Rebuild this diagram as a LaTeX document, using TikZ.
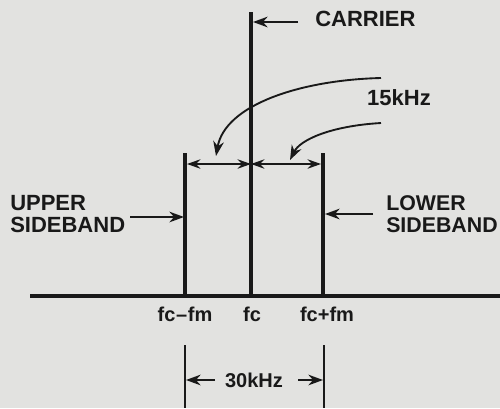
\documentclass[tikz,border=0pt]{standalone}
\usepackage{fontspec}
\setmainfont{Liberation Sans}
\usetikzlibrary{arrows.meta}
\definecolor{bg}{RGB}{226,226,224}
\definecolor{ink}{RGB}{25,25,25}
\begin{document}
\begin{tikzpicture}[x=0.75pt,y=-0.75pt,
  ln/.style={draw=ink,line width=2.8pt},
  thin/.style={draw=ink,line width=1.4pt},
  tip/.style={-{Stealth[length=11pt,width=8pt]}},
  dtip/.style={{Stealth[length=10pt,width=7pt]}-{Stealth[length=10pt,width=7pt]}},
  lbl/.style={font=\fontsize{16.5}{17}\selectfont\bfseries,text=ink,inner sep=0pt},
  lbls/.style={font=\fontsize{15}{15}\selectfont\bfseries,text=ink,inner sep=0pt},
  lblm/.style={lbl,align=left}]
\fill[bg] (0,0) rectangle (500,408);
\useasboundingbox (0,0) rectangle (500,408);
% baseline
\coordinate (b0) at (30,296);
\coordinate (b1) at (500,296);
\draw[ln,line width=3pt] (b0) -- (b1);
% spectral lines
\coordinate (cT) at (251,12);  \coordinate (cB) at (251,296);
\coordinate (lT) at (185,153); \coordinate (lB) at (185,296);
\coordinate (rT) at (323,153); \coordinate (rB) at (323,296);
\draw[ln] (cT) -- (cB);
\draw[ln] (lT) -- (lB);
\draw[ln] (rT) -- (rB);
% dimension arrows
\coordinate (dl) at (187,164); \coordinate (dc) at (251,164); \coordinate (dr) at (321,164);
\draw[thin,dtip] (dl) -- (dc);
\draw[thin,dtip] (dc) -- (dr);
% carrier
\node[lbl,anchor=west] (carrier) at (315,19) {CARRIER};
\coordinate (cs) at (298,22); \coordinate (ce) at (253,22);
\draw[thin,tip] (cs) -- (ce);
% 15kHz
\node[lbl,anchor=center] (khz) at (399,98) {15kHz};
\coordinate (a1s) at (381,78); \coordinate (a1e) at (216,156);
\coordinate (a2s) at (381,123); \coordinate (a2e) at (290,160);
\draw[thin,tip] (a1s) .. controls (300,80) and (225,105) .. (a1e);
\draw[thin,tip] (a2s) .. controls (330,126) and (300,140) .. (a2e);
% sidebands
\node[lblm,anchor=west] (usb) at (10,214) {UPPER\\SIDEBAND};
\coordinate (us) at (130,217); \coordinate (ue) at (184,217);
\draw[thin,tip] (us) -- (ue);
\node[lblm,anchor=west,font=\fontsize{16}{17}\selectfont\bfseries] (lsb) at (386,214) {LOWER\\SIDEBAND};
\coordinate (ls) at (373,214); \coordinate (le) at (325,214);
\draw[thin,tip] (ls) -- (le);
% axis labels
\node[lbls] (f1) at (185,314) {fc\kern0.5pt--\kern0.5pt fm};
\node[lbls] (f2) at (252,314) {fc};
\node[lbls] (f3) at (327,314) {fc+fm};
% 30kHz
\coordinate (vl0) at (185,345); \coordinate (vl1) at (185,408);
\coordinate (vr0) at (324,345); \coordinate (vr1) at (324,408);
\draw[thin] (vl0) -- (vl1);
\draw[thin] (vr0) -- (vr1);
\node[lbls] (tkhz) at (254,380) {30kHz};
\coordinate (al) at (215,380); \coordinate (ar) at (298,380);
\draw[thin,tip] (al) -- (186,380);
\draw[thin,tip] (ar) -- (323,380);
\end{tikzpicture}
\end{document}
